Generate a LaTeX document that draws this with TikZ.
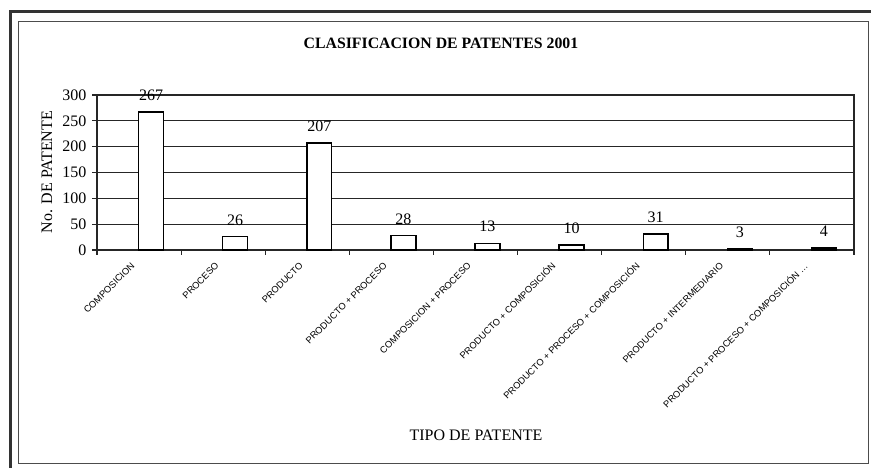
\documentclass[tikz,border=0pt]{standalone}
\usepackage{fontspec}
\setmainfont{Liberation Serif}
\newfontfamily\catfont{Liberation Sans}
\usetikzlibrary{positioning}
\tikzset{
	marco/.style={draw=black!70,line width=0.8pt},
	rejilla/.style={draw=black!85,line width=1.2pt},
	barra/.style={draw=black,line width=1.4pt,fill=white},
	etiqueta/.style={font=\fontsize{16}{19}\selectfont,inner sep=0pt},
	categoria/.style={font=\catfont\fontsize{9.3}{11}\selectfont,rotate=45,anchor=east,inner sep=0pt}
}
\begin{document}
\begin{tikzpicture}[x=1pt,y=1pt]
	\useasboundingbox (0,0) rectangle (871,468);
	% marcos
	\draw[line width=3pt,black!80] (10,0) -- (10,456.5) -- (871,456.5);
	\draw[marco] (18,5) rectangle (868,447);
	\node[font=\bfseries\fontsize{15.8}{18}\selectfont] (titulo) at (441,425) {CLASIFICACION DE PATENTES 2001};
	\node[rotate=90,font=\fontsize{16}{19}\selectfont] (ejey) at (47,296) {No. DE PATENTE};
	\node[font=\fontsize{16}{19}\selectfont] (ejex) at (476,33) {TIPO DE PATENTE};
	\begin{scope}[shift={(97,218)},x=84.1pt,y=0.5167pt]
		\foreach \y in {50,100,...,250}
			\draw[rejilla] (0,\y) -- (9,\y);
		\draw[rejilla] (0,0) rectangle (9,300);
		\foreach \y in {0,50,...,300}
			\draw[rejilla] (0,\y) -- ++(-5pt,0) node[etiqueta,left=5pt] (y\y) {\y};
		\foreach \i in {0,...,9}
			\draw[rejilla] (\i,0) -- ++(0,-5pt);
		\foreach \v/\t [count=\i] in {267/COMPOSICION,26/PROCESO,207/PRODUCTO,28/PRODUCTO + PROCESO,13/COMPOSICION + PROCESO,10/PRODUCTO + COMPOSICIÓN,31/PRODUCTO + PROCESO + COMPOSICIÓN,3/PRODUCTO + INTERMEDIARIO,4/PRODUCTO + PROCESO + COMPOSICIÓN \ldots}{
			\draw[barra] (\i-0.505,0) rectangle (\i-0.209,\v);
			\node[etiqueta,above=11pt] (v\i) at (\i-0.357,\v) {\v};
			\node[categoria] (c\i) at ([shift={(-6pt,-14pt)}]\i-0.5,0) {\t};
		}
	\end{scope}
\end{tikzpicture}
\end{document}
